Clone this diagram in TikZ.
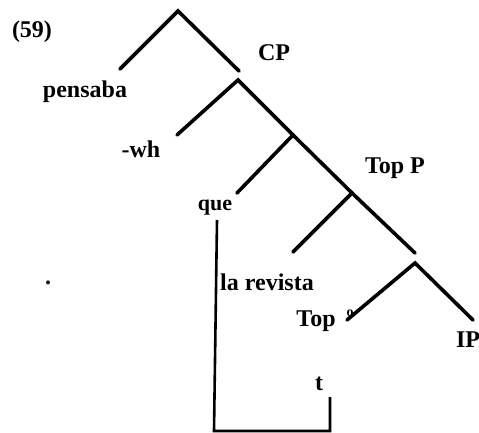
\documentclass[tikz,border=0pt]{standalone}
\usepackage{fontspec}
\setmainfont{Liberation Serif}
\begin{document}
\begin{tikzpicture}[x=1pt,y=-1pt,
  branch/.style={line width=3.6pt,line cap=round},
  trace/.style={line width=2.6pt},
  lbl/.style={inner sep=0pt,font=\bfseries\fontsize{24}{26}\selectfont},
  smlbl/.style={inner sep=0pt,font=\bfseries\fontsize{22}{24}\selectfont}]
\useasboundingbox (0,0) rectangle (479,433);
% tree points
\coordinate (r0) at (178,11);
\coordinate (a) at (120,69);
\coordinate (b) at (239,71);
\coordinate (c0) at (238,80);
\coordinate (d) at (177,135);
\coordinate (e1) at (293,135);
\coordinate (f) at (237,193);
\coordinate (e2) at (352,193);
\coordinate (g) at (293,252);
\coordinate (h) at (415,253);
\coordinate (k0) at (415,263);
\coordinate (l) at (347,320);
\coordinate (m) at (473,320);
% branches
\draw[branch] (a) -- (r0) -- (b);
\draw[branch] (d) -- (c0) -- (e1) -- (e2) -- (h);
\draw[branch] (e1) -- (f);
\draw[branch] (e2) -- (g);
\draw[branch] (l) -- (k0) -- (m);
% labels
\node[lbl] (ex) at (32,32) {(59)};
\node[lbl] (pensaba) at (85,92) {pensaba};
\node[lbl] (wh) at (141,149) {-wh};
\node[smlbl] (que) at (215,208) {que};
\node[lbl] (CP) at (274,53) {CP};
\node[lbl] (TopP) at (395,168) {Top P};
\node[lbl] (larevista) at (267,282) {la revista};
\node[lbl] (Top) at (316,321) {Top};
\node[inner sep=0pt,font=\bfseries\fontsize{14}{15}\selectfont] (deg) at (350,313) {o};
\node[lbl] (IP) at (468,340) {IP};
\node[lbl] (t) at (319,384) {t};
\node[lbl] (dot) at (48,283) {.};
% movement line
\coordinate (q1) at (217,220);
\coordinate (q2) at (214,431);
\coordinate (t2) at (330,431);
\coordinate (t1) at (330,397);
\draw[trace] (q1) -- (q2) -- (t2) -- (t1);
\end{tikzpicture}
\end{document}
